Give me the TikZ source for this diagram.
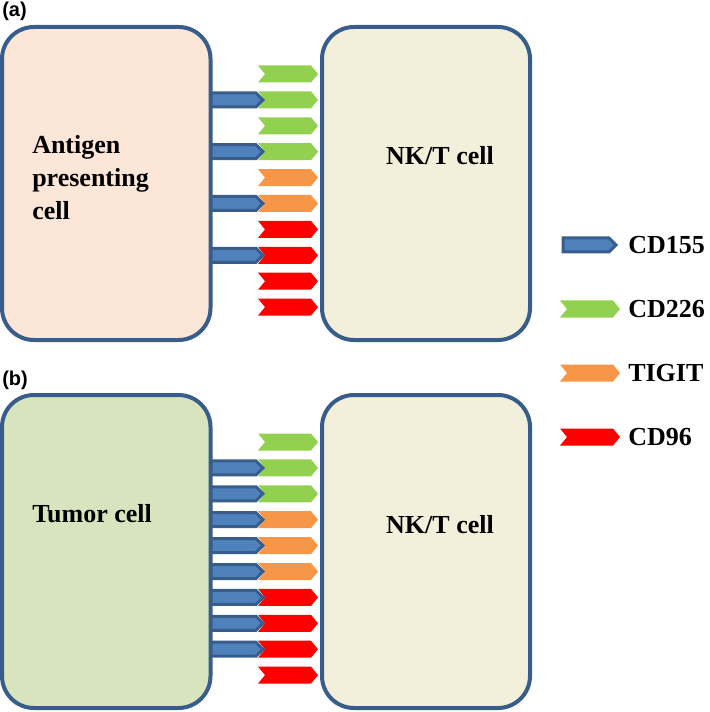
\documentclass[tikz,border=0pt]{standalone}
\usepackage{fontspec}
\setmainfont{Liberation Serif}
\newfontfamily\panelfont{Liberation Sans}
\usetikzlibrary{calc}
\definecolor{cellborder}{HTML}{385D8A}
\definecolor{apcfill}{HTML}{FCE6D8}
\definecolor{tumorfill}{HTML}{D7E4BD}
\definecolor{nkfill}{HTML}{F2EFDA}
\definecolor{cdblue}{HTML}{4F81BD}
\definecolor{cdgreen}{HTML}{92D050}
\definecolor{cdorange}{HTML}{F79646}
\definecolor{cdred}{HTML}{FF0000}
\tikzset{
	cellbox/.style={draw=cellborder, line width=3pt, rounded corners=24pt},
	celltext/.style={font=\fontsize{19.5}{24.75}\selectfont\bfseries, inner sep=0pt},
	paneltext/.style={font=\fontsize{15}{18}\selectfont\panelfont\bfseries, inner sep=0pt}
}
\def\receptor[#1](#2,#3){\fill[#1] (#2,#3-8.5) -- ++(53,0) -- ++(7,8.5) -- ++(-7,8.5) -- ++(-53,0) -- ++(7,-8.5) -- cycle;}
\def\ligand(#1,#2:#3){\draw[line width=2.25pt, draw=cellborder, fill=cdblue] (#1,#2-7) -- ++(#3,0) -- ++(7,7) -- ++(-7,7) -- ++(-#3,0) -- cycle;}

\begin{document}
\begin{tikzpicture}[x=0.75pt, y=-0.75pt]
			%%%%% START %%%%%
			\useasboundingbox (0,0) rectangle (709,712);
			
			% panel (a)
			\node[paneltext, anchor=base west] (labela) at (2,17) {(a)};
			
			\receptor[cdgreen](258,74);
			\receptor[cdgreen](258,99.9);
			\receptor[cdgreen](258,125.8);
			\receptor[cdgreen](258,151.7);
			\receptor[cdorange](258,177.6);
			\receptor[cdorange](258,203.5);
			\receptor[cdred](258,229.4);
			\receptor[cdred](258,255.3);
			\receptor[cdred](258,281.2);
			\receptor[cdred](258,307.1);
			
			\ligand(205,99.9:51);
			\ligand(205,151.7:51);
			\ligand(205,203.5:51);
			\ligand(205,255.3:51);
			
			\draw[cellbox, fill=apcfill] (2,27) rectangle (210.5,340);
			\draw[cellbox, fill=nkfill] (322,27) rectangle (530,340);
			
			\node[celltext, anchor=north west, align=left] (apc) at (32,135.5) {Antigen\\presenting\\cell};
			\node[celltext, anchor=base] (nka) at (440,165) {NK/T cell};
			
			% panel (b)
			\node[paneltext, anchor=base west] (labelb) at (2,385) {(b)};
			
			\receptor[cdgreen](258,442);
			\receptor[cdgreen](258,467.9);
			\receptor[cdgreen](258,493.8);
			\receptor[cdorange](258,519.7);
			\receptor[cdorange](258,545.6);
			\receptor[cdorange](258,571.5);
			\receptor[cdred](258,597.4);
			\receptor[cdred](258,623.3);
			\receptor[cdred](258,649.2);
			\receptor[cdred](258,675.1);
			
			\ligand(205,467.9:51);
			\ligand(205,493.8:51);
			\ligand(205,519.7:51);
			\ligand(205,545.6:51);
			\ligand(205,571.5:51);
			\ligand(205,597.4:51);
			\ligand(205,623.3:51);
			\ligand(205,649.2:51);
			
			\draw[cellbox, fill=tumorfill] (2,395) rectangle (210.5,708);
			\draw[cellbox, fill=nkfill] (322,395) rectangle (530,708);
			
			\node[celltext, anchor=base west] (tumor) at (32,522) {Tumor cell};
			\node[celltext, anchor=base] (nkb) at (440,533) {NK/T cell};
			
			% legend
			\ligand(563,245:46);
			\node[celltext, anchor=west] (cd155) at (628,245) {CD155};
			\receptor[cdgreen](560,309);
			\node[celltext, anchor=west] (cd226) at (628,309) {CD226};
			\receptor[cdorange](560,373);
			\node[celltext, anchor=west] (tigit) at (628,373) {TIGIT};
			\receptor[cdred](560,437);
			\node[celltext, anchor=west] (cd96) at (628,437) {CD96};
			
			%%%%% END %%%%%
\end{tikzpicture}
\end{document}
